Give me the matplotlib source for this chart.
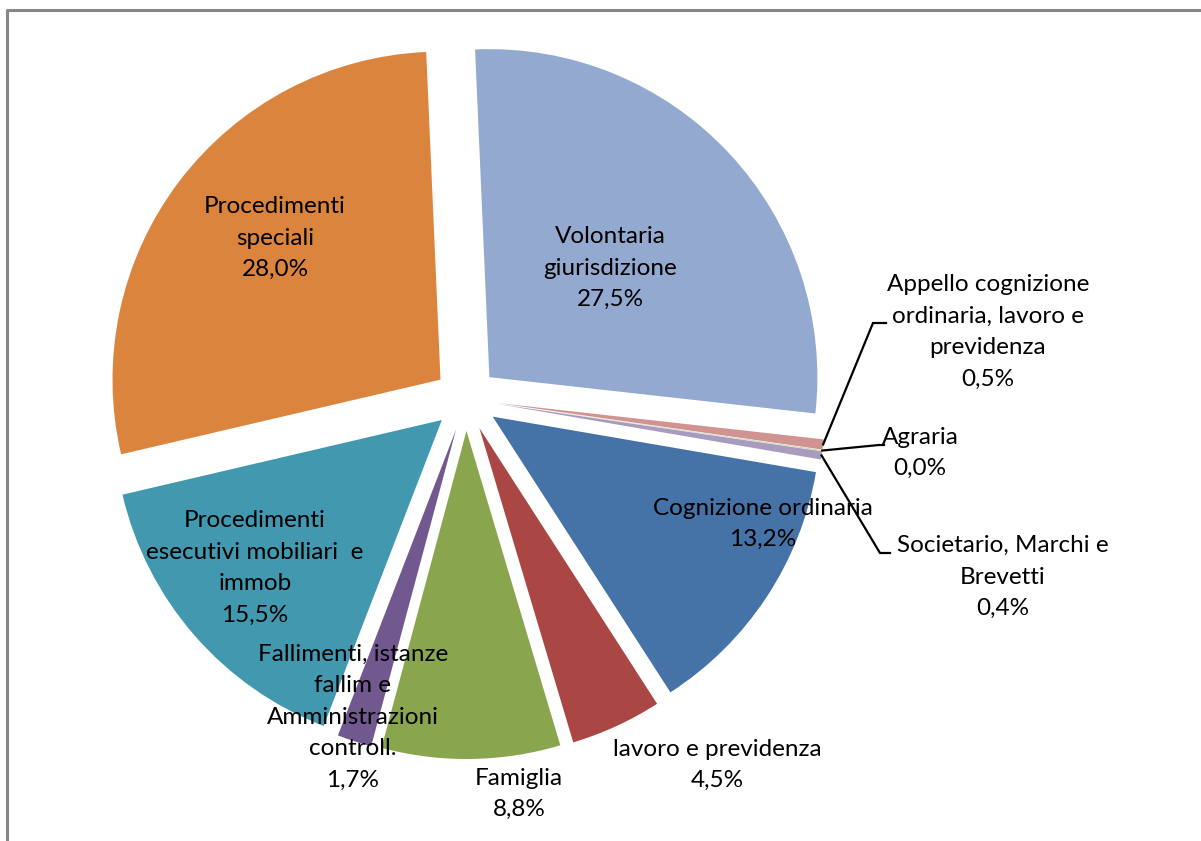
import numpy as np
import matplotlib.pyplot as plt

categories = [
    "Volontaria\ngiurisdizione",
    "Appello cognizione\nordinaria, lavoro e\nprevidenza",
    "Agraria",
    "Societario, Marchi e\nBrevetti",
    "Cognizione ordinaria",
    "lavoro e previdenza",
    "Famiglia",
    "Fallimenti, istanze\nfallim e\nAmministrazioni\ncontroll.",
    "Procedimenti\nesecutivi mobiliari  e\nimmob",
    "Procedimenti\nspeciali",
]
values = [27.5, 0.5, 0.04, 0.4, 13.2, 4.5, 8.8, 1.7, 15.5, 28.0]
colors = ["#93A9CF", "#D19392", "#B9CD96", "#A99BBD", "#4572A7",
          "#AA4643", "#89A54E", "#71588F", "#4198AF", "#DB843D"]

# label centres (pixels, from top-left) and which ones get a leader line
label_pos = [(610, 268), (988, 332), (920, 453), (1003, 577), (763, 524),
             (717, 765), (519, 794), (353, 717), (255, 568), (275, 238)]
leader_elbow = {1: (873, 323, 886), 2: (879, 445, 884), 3: (880, 553, 890)}

W, H = 1201, 841
cx, cy, R = 466, 399, 328
gap = 32  # explode offset, pixels

plt.rcParams['font.family'] = ['Lato', 'DejaVu Sans']
fig = plt.figure(figsize=(W / 100, H / 100), dpi=100)
ax = fig.add_axes([0, 0, 1, 1])

wedges, _ = ax.pie(values, colors=colors, startangle=92.5, counterclock=False,
                   explode=[gap] * len(values), center=(cx, H - cy), radius=R,
                   wedgeprops=dict(linewidth=0))
ax.set_xlim(0, W)
ax.set_ylim(0, H)
ax.set_aspect('equal')
ax.axis('off')

for i, (name, v) in enumerate(zip(categories, values)):
    txt = name + "\n" + f"{v:.1f}".replace('.', ',') + "%"
    lx, ly = label_pos[i]
    ax.text(lx, H - ly, txt, ha='center', va='center', multialignment='center',
            fontsize=17.5, linespacing=1.62, color='black')
    if i in leader_elbow:
        w = wedges[i]
        th = np.deg2rad((w.theta1 + w.theta2) / 2)
        sx = w.center[0] + R * np.cos(th)
        sy = w.center[1] + R * np.sin(th)
        ex, ey, tx = leader_elbow[i]
        ax.plot([sx, ex, tx], [sy, H - ey, H - ey], color='black', lw=1.6,
                solid_joinstyle='miter')

# chart area border (cropped on right and bottom)
ax.plot([7, 7, W + 5], [-5, H - 10, H - 10], color='#878787', lw=2.2, clip_on=False)

fig.savefig("out.png", dpi=100)
